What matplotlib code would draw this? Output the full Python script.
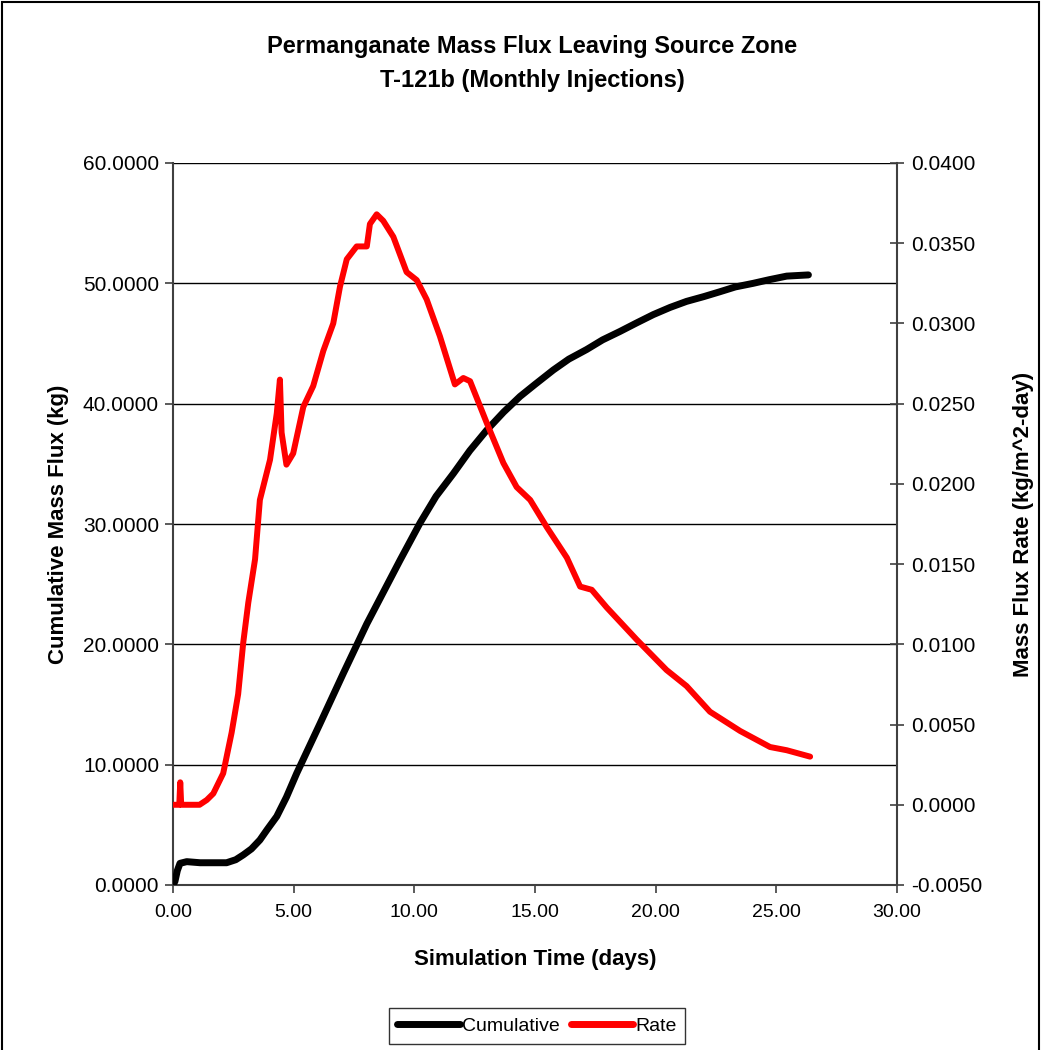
import matplotlib
matplotlib.use("Agg")
import matplotlib.pyplot as plt
from matplotlib.ticker import FormatStrFormatter, MultipleLocator
from matplotlib.lines import Line2D
from matplotlib.patches import Rectangle

plt.rcParams['font.family'] = ['Liberation Sans', 'DejaVu Sans']

# Cumulative permanganate mass leaving the source zone (kg)
cum_time = [0.0, 0.08, 0.18, 0.29, 0.57, 1.12, 1.6, 2.22, 2.6, 2.91, 3.25, 3.6, 3.9, 4.30,
            4.7, 5.13, 6.09, 7.06, 8.03, 9.41, 10.24, 10.9, 11.62, 12.3, 13.0, 13.7, 14.38,
            15.0, 15.76, 16.4, 17.14, 17.8, 18.52, 19.2, 19.90, 20.6, 21.28, 22.0, 22.66,
            23.3, 24.04, 24.7, 25.43, 26.33]
cum_mass = [0.0, 0.3, 1.2, 1.8, 1.94, 1.85, 1.85, 1.85, 2.1, 2.5, 3.0, 3.74, 4.6, 5.7,
            7.3, 9.3, 13.4, 17.6, 21.7, 27.0, 30.1, 32.3, 34.2, 36.1, 37.8, 39.3, 40.6,
            41.6, 42.8, 43.7, 44.5, 45.3, 46.0, 46.7, 47.4, 48.0, 48.5, 48.9, 49.3,
            49.7, 50.0, 50.3, 50.6, 50.7]

# Mass flux rate (kg/m^2-day)
rate_time = [0.0, 0.26, 0.30, 0.34, 0.38, 0.7, 1.1, 1.4, 1.67, 2.08, 2.43, 2.7, 2.91,
             3.12, 3.4, 3.6, 4.02, 4.30, 4.43, 4.5, 4.70, 4.98, 5.40, 5.81,
             6.23, 6.64, 6.92, 7.20, 7.61, 8.03, 8.16, 8.44, 8.71, 9.13, 9.68,
             10.10, 10.51, 11.06, 11.68, 12.03, 12.31, 13.0, 13.69, 14.24, 14.80,
             15.49, 16.32, 16.87, 17.35, 17.97, 19.21, 20.45, 21.28, 22.25,
             23.5, 24.74, 25.43, 26.4]
rate_val = [0.0, 0.0, 0.0014, 0.0, 0.0, 0.0, 0.0, 0.0003, 0.0007, 0.00196, 0.0045, 0.0069, 0.0101,
            0.0126, 0.0153, 0.019, 0.0215, 0.0244, 0.0265, 0.0232, 0.0212, 0.0219, 0.0248, 0.0261,
            0.0283, 0.0300, 0.0323, 0.0340, 0.0348, 0.0348, 0.0362, 0.0368, 0.0364, 0.0354, 0.0332,
            0.0327, 0.0315, 0.0292, 0.0262, 0.0266, 0.0264, 0.0238, 0.0213, 0.0198, 0.0190,
            0.0173, 0.0154, 0.0136, 0.0134, 0.0123, 0.0103, 0.0084, 0.0074, 0.0058,
            0.0046, 0.0036, 0.0034, 0.0030]

title_lines = ["Permanganate Mass Flux Leaving Source Zone", "T-121b (Monthly Injections)"]

fig = plt.figure(figsize=(10.42, 10.5), dpi=100)
ax = fig.add_axes([173/1042, 1 - 885/1050, (897 - 173)/1042, (885 - 163)/1050])
ax2 = ax.twinx()

axis_color = '#404040'

ax.plot(cum_time, cum_mass, color='black', lw=5.0, solid_capstyle='round',
        solid_joinstyle='round', label='Cumulative', zorder=3)
ax2.plot(rate_time, rate_val, color='#ff0000', lw=4.3, solid_capstyle='round',
         solid_joinstyle='round', label='Rate', zorder=3)

ax.set_xlim(0, 30)
ax.set_ylim(0, 60)
ax2.set_ylim(-0.005, 0.04)
ax.xaxis.set_major_locator(MultipleLocator(5))
ax.yaxis.set_major_locator(MultipleLocator(10))
ax2.yaxis.set_major_locator(MultipleLocator(0.005))
ax.xaxis.set_major_formatter(FormatStrFormatter('%.2f'))
ax.yaxis.set_major_formatter(FormatStrFormatter('%.4f'))
ax2.yaxis.set_major_formatter(FormatStrFormatter('%.4f'))

ax.yaxis.grid(True, color='black', lw=1.0)
ax.set_axisbelow(True)

for a in (ax, ax2):
    a.spines['top'].set_visible(False)
    for s in a.spines.values():
        s.set_color(axis_color)
        s.set_linewidth(1.5)
ax2.spines['left'].set_visible(False)
ax2.spines['bottom'].set_visible(False)
ax.spines['right'].set_visible(False)

ax.tick_params(axis='x', direction='out', length=6, width=1.2, color=axis_color,
               labelsize=14, pad=8)
ax.tick_params(axis='y', direction='out', length=6, width=1.2, color=axis_color,
               labelsize=15, pad=4)
ax2.tick_params(axis='y', direction='inout', length=10, width=1.2, color=axis_color,
                labelsize=15, pad=5)

ax.set_xlabel('Simulation Time (days)', fontsize=16, fontweight='bold', labelpad=20)
ax.set_ylabel('Cumulative Mass Flux (kg)', fontsize=16, fontweight='bold', labelpad=10)
ax2.set_ylabel('Mass Flux Rate (kg/m^2-day)', fontsize=16, fontweight='bold', labelpad=22)

fig.text(532/1042, 1 - 47/1050, title_lines[0], ha='center', va='center',
         fontsize=17, fontweight='bold')
fig.text(532/1042, 1 - 80/1050, title_lines[1], ha='center', va='center',
         fontsize=17, fontweight='bold')

handles = [Line2D([], [], color='black', lw=5, solid_capstyle='round'),
           Line2D([], [], color='#ff0000', lw=5, solid_capstyle='round')]
leg = fig.legend(handles, ['Cumulative', 'Rate'], loc='center',
                 bbox_to_anchor=(537/1042, 1 - 1026/1050), ncol=2, fontsize=14,
                 frameon=True, fancybox=False, edgecolor='black', handlelength=3.2,
                 handletextpad=0.1, columnspacing=0.6, borderpad=0.45)
leg.get_frame().set_linewidth(1.0)

# outer chart border
fig.add_artist(Rectangle((2/1042, -0.05), 1037/1042, 1.05 - 2/1050,
                         transform=fig.transFigure, fill=False,
                         edgecolor='black', lw=1.5))

fig.savefig('out.png', dpi=100)
